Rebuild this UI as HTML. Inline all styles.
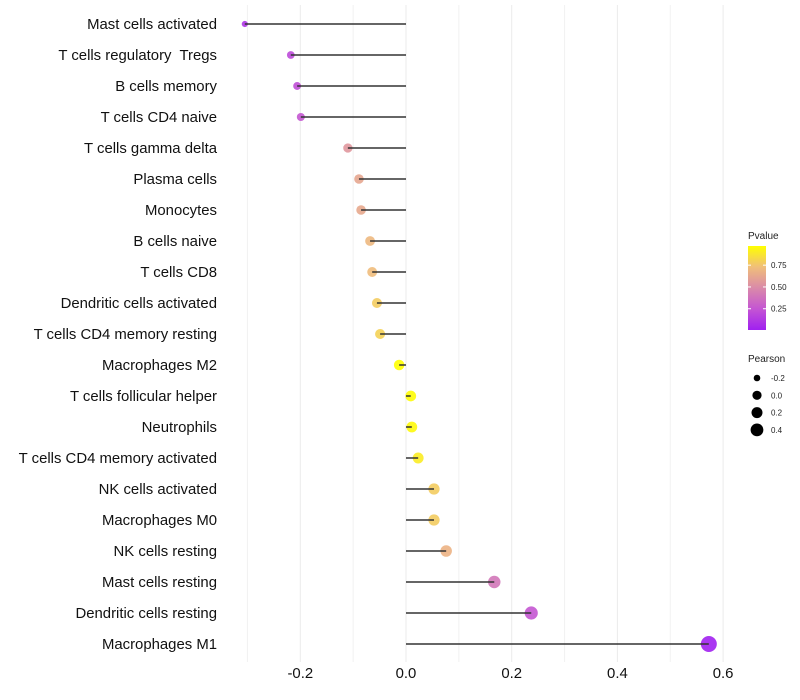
<!DOCTYPE html>
<html><head><meta charset="utf-8"><style>
body{margin:0;background:#fff;}
svg{display:block;font-family:"Liberation Sans",sans-serif;}
text{white-space:pre;}
</style></head><body>
<svg id="chart" width="800" height="700"></svg>
<script>
const categories=["Mast cells activated","T cells regulatory  Tregs","B cells memory","T cells CD4 naive","T cells gamma delta","Plasma cells","Monocytes","B cells naive","T cells CD8","Dendritic cells activated","T cells CD4 memory resting","Macrophages M2","T cells follicular helper","Neutrophils","T cells CD4 memory activated","NK cells activated","Macrophages M0","NK cells resting","Mast cells resting","Dendritic cells resting","Macrophages M1"];
const pearson=[-0.305,-0.218,-0.206,-0.199,-0.110,-0.089,-0.085,-0.068,-0.064,-0.055,-0.049,-0.013,0.009,0.011,0.023,0.053,0.053,0.076,0.167,0.237,0.573];
const pvalues=[0.10,0.20,0.22,0.25,0.55,0.62,0.63,0.70,0.72,0.78,0.80,0.97,0.96,0.95,0.90,0.78,0.78,0.68,0.40,0.25,0.01];
const xTicks=[-0.2,0,0.2,0.4,0.6];
const xTickLabels=["-0.2","0.0","0.2","0.4","0.6"];
const minorTicks=[-0.3,-0.1,0.1,0.3,0.5];
const colorLegendTicks=[0.25,0.5,0.75];
const sizeLegendVals=[-0.2,0,0.2,0.4];
const sizeLegendLabels=["-0.2","0.0","0.2","0.4"];

const NS="http://www.w3.org/2000/svg";
const svg=document.getElementById('chart');
function mk(tag,attrs,parent){const e=document.createElementNS(NS,tag);for(const k in attrs)e.setAttribute(k,attrs[k]);(parent||svg).appendChild(e);return e;}
const x=v=>406+v*528.5;
const y=i=>24+i*31;
const pMin=0.006,pMax=0.97;
const stops=[[0,[160,32,240]],[0.25,[196,85,211]],[0.5,[218,138,169]],[0.75,[240,190,122]],[1,[255,255,0]]];
function col(p){let t=(p-pMin)/(pMax-pMin);t=Math.max(0,Math.min(1,t));
 for(let i=1;i<stops.length;i++){if(t<=stops[i][0]){const a=stops[i-1],b=stops[i];const f=(t-a[0])/(b[0]-a[0]);
 const c=a[1].map((v,j)=>Math.round(v+(b[1][j]-v)*f));return `rgb(${c})`;}}return 'rgb(255,255,0)';}
const r=v=>Math.sqrt(Math.max(4,28.4+62*v));

minorTicks.forEach(t=>{const l=mk('line',{x1:x(t),x2:x(t),y1:5,y2:662,stroke:'#f2f2f2','stroke-width':1});

});
xTicks.forEach((t,i)=>{const l=mk('line',{x1:x(t),x2:x(t),y1:5,y2:662,stroke:'#ebebeb','stroke-width':1});


const tx=mk('text',{x:x(t),y:678,'text-anchor':'middle','font-size':14.9,fill:'#111'});tx.textContent=xTickLabels[i];

});

categories.forEach((c,i)=>{
 const t=mk('text',{x:217,y:y(i)+5,'text-anchor':'end','font-size':14.9,fill:'#111'});t.textContent=c;
 
 
 const d=mk('circle',{cx:x(pearson[i]),cy:y(i),r:r(pearson[i]),fill:col(pvalues[i]),'fill-opacity':0.9});
 
 
 const s=mk('line',{x1:x(0),x2:x(pearson[i]),y1:y(i),y2:y(i),stroke:'#333','stroke-width':1.5});
 
 
});

const g=mk('g',{});


const lt=mk('text',{x:748,y:239,'font-size':10,fill:'#222'},g);lt.textContent='Pvalue';
const defs=mk('defs',{});const lg=mk('linearGradient',{id:'pg',x1:0,y1:1,x2:0,y2:0},defs);
stops.forEach(s=>mk('stop',{offset:s[0],'stop-color':`rgb(${s[1]})`},lg));
mk('rect',{x:748,y:246,width:18,height:84,fill:'url(#pg)'},g);
colorLegendTicks.forEach(t=>{const yy=246+84*(pMax-t)/(pMax-pMin);
 mk('line',{x1:748,x2:751,y1:yy,y2:yy,stroke:'#fff'},g);mk('line',{x1:763,x2:766,y1:yy,y2:yy,stroke:'#fff'},g);
 const tt=mk('text',{x:771,y:yy+3,'font-size':8,fill:'#222'},g);tt.textContent=t.toFixed(2);});
const g2=mk('g',{});


const st=mk('text',{x:748,y:362,'font-size':10,fill:'#222'},g2);st.textContent='Pearson';
const legR=[3.3,4.6,5.5,6.4];
sizeLegendVals.forEach((v,i)=>{const yy=378+i*17.3;mk('circle',{cx:757,cy:yy,r:legR[i],fill:'#000'},g2);
 const tt=mk('text',{x:771,y:yy+3,'font-size':8,fill:'#222'},g2);tt.textContent=sizeLegendLabels[i];});
</script>
</body></html>
